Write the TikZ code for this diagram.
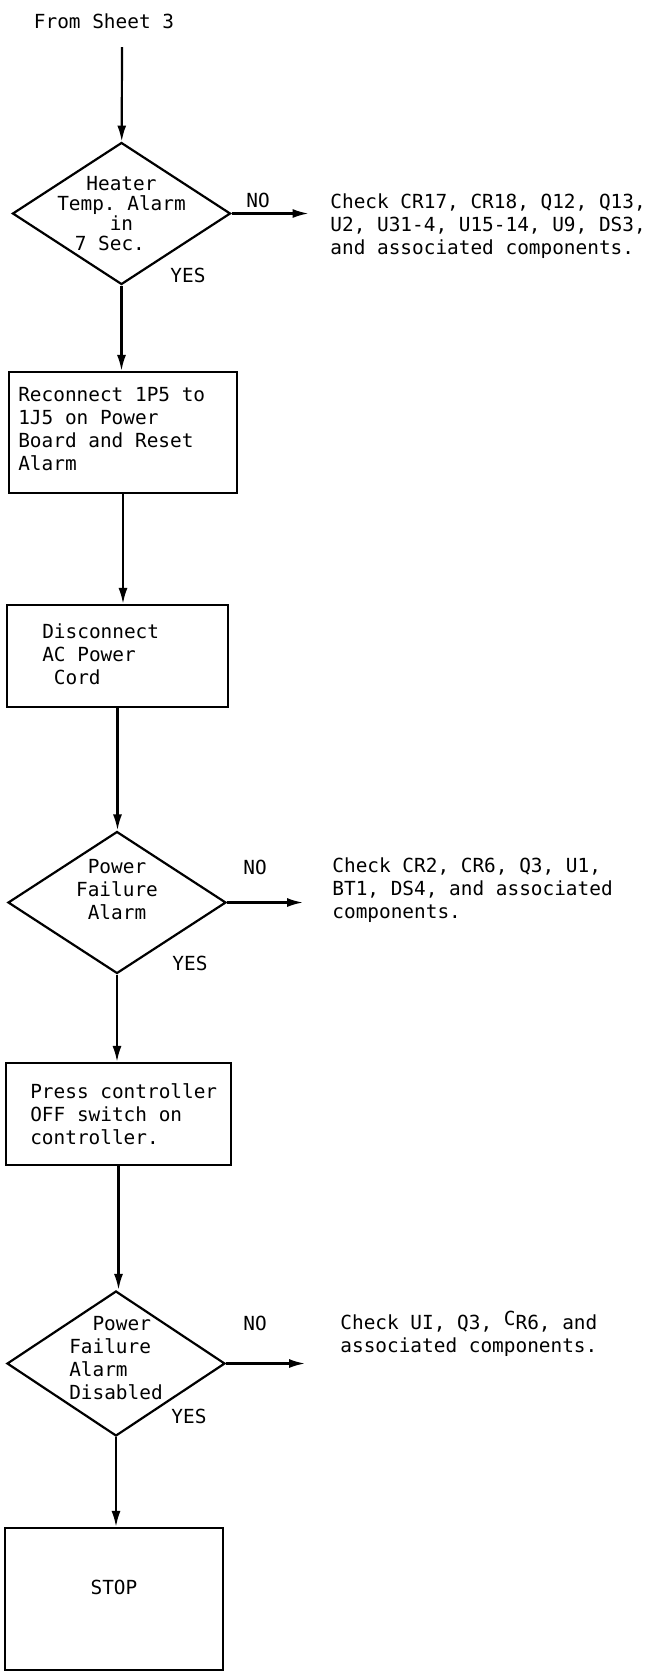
\documentclass[tikz,border=0pt]{standalone}
\usepackage{fontspec}
\setmonofont{DejaVu Sans Mono}
\usepackage{tikz}
\usetikzlibrary{shapes.geometric,arrows.meta}

\begin{document}
\begin{tikzpicture}[x=0.5pt, y=-0.5pt,
	every node/.style = {font=\ttfamily\fontsize{9.7}{11.5}\selectfont},
	box/.style = {draw, rectangle, line width=1.1pt},
	boxtext/.style = {anchor=west, align=left, inner sep=0pt},
	choice/.style = {draw, diamond, line width=1.1pt, inner sep=0pt, minimum width=109pt, minimum height=71pt},
	note/.style = {anchor=west, align=left, inner sep=0pt},
	flow/.style = {line width=1.1pt, -{Latex[length=8pt, width=4.5pt]}}]
	\useasboundingbox (0,0) rectangle (656,1672);
	\node (from) at (104,21) {From Sheet 3};
	\coordinate (start) at (122,47);
	\node[choice, label={[align=center, font=\ttfamily\fontsize{9.7}{10}\selectfont]center:Heater\\Temp. Alarm\\in\hspace*{2.4em}\\7 Sec.\hspace*{1.2em}}] (d1) at (121.5,213.5) {};
	\node[box, minimum width=114pt, minimum height=60.5pt, label={[boxtext, xshift=5pt, yshift=1.75pt]west:Reconnect 1P5 to\\1J5 on Power\\Board and Reset\\Alarm}] (b1) at (123,432.5) {};
	\node[box, minimum width=110.5pt, minimum height=51pt, label={[boxtext, xshift=18pt, yshift=1pt]west:Disconnect\\AC Power\\\hspace*{.6em}Cord}] (b2) at (117.5,656) {};
	\node[choice, label={[align=center, yshift=6.5pt]center:Power\\Failure\\Alarm}] (d2) at (117,902.5) {};
	\node[box, minimum width=112.5pt, minimum height=51pt, label={[boxtext, xshift=12.5pt]west:Press controller\\OFF switch on\\controller.}] (b3) at (118.5,1114) {};
	\node[choice, minimum height=72.5pt, label={[align=left, yshift=2.5pt]center:\hspace*{1.2em}Power\\Failure\\Alarm\\Disabled}] (d3) at (116,1363.5) {};
	\node[box, minimum width=109pt, minimum height=71pt, label={[yshift=6pt]center:STOP}] (stop) at (114,1599) {};
	\node (no1) at (258,200) {NO};
	\node (yes1) at (188,275) {YES};
	\node (no2) at (255,867) {NO};
	\node (yes2) at (190,963) {YES};
	\node (no3) at (255,1323) {NO};
	\node (yes3) at (189,1416) {YES};
	\node[note] (chk1) at (330,226) {Check CR17, CR18, Q12, Q13,\\U2, U31-4, U15-14, U9, DS3,\\and associated components.};
	\node[note] (chk2) at (332,890) {Check CR2, CR6, Q3, U1,\\BT1, DS4, and associated\\components.};
	\node[note] (chk3) at (340,1334) {Check UI, Q3, \raisebox{2pt}{C}R6, and\\associated components.};
	\coordinate (n1) at ([xshift=38.5pt]d1.east);
	\coordinate (n2) at ([xshift=38pt]d2.east);
	\coordinate (n3) at ([xshift=39.5pt]d3.east);
	\draw[flow] (start) -- (d1);
	\draw[flow] (d1) -- (d1 |- b1.north);
	\draw[flow] (b1) -- (b1 |- b2.north);
	\draw[flow] (b2) -- (b2 |- d2.north);
	\draw[flow] (d2) -- (d2 |- b3.north);
	\draw[flow] (b3) -- (b3 |- d3.north);
	\draw[flow] (d3) -- (d3 |- stop.north);
	\draw[flow] (d1.east) -- (n1);
	\draw[flow] (d2.east) -- (n2);
	\draw[flow] (d3.east) -- (n3);
\end{tikzpicture}
\end{document}
